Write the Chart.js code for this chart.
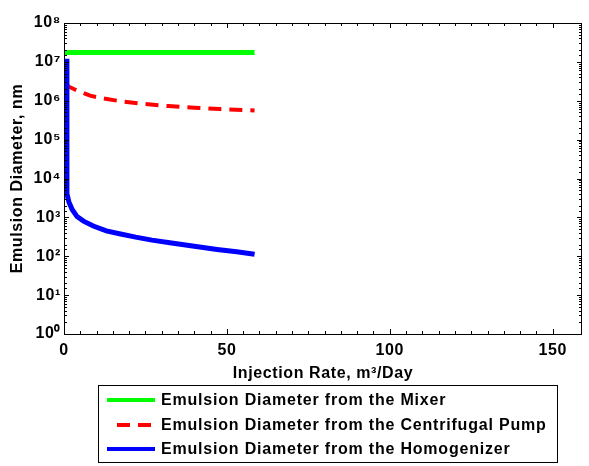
<!DOCTYPE html>
<html>
<head>
<meta charset="utf-8">
<script src="https://cdn.jsdelivr.net/npm/chart.js@4/dist/chart.umd.min.js"></script>
<style>
  html, body { margin: 0; padding: 0; background: #fff; }
  #wrap { position: relative; width: 589px; height: 466px; }
</style>
</head>
<body>
<div id="wrap"><canvas id="chart" width="589" height="466"></canvas></div>
<script>
// --- data ---
const mixerX = [0, 58.5]
const mixerY = [1.75e7, 1.75e7]

const pumpX = [0.5, 0.8, 1.5, 3, 5, 8, 12, 18, 25, 32, 40, 48, 55, 58.5]
const pumpY = [1.0e7, 2.6e6, 2.3e6, 2.0e6, 1.7e6, 1.35e6, 1.15e6, 9.5e5, 8.2e5, 7.3e5, 6.6e5, 6.1e5, 5.8e5, 5.6e5]

const homogX = [0.7, 0.9, 1.5, 2.5, 4, 6, 9, 13, 17, 22, 27, 33, 40, 47, 53, 58.5]
const homogY = [1.2e7, 4000, 2500, 1600, 1050, 800, 600, 450, 380, 310, 260, 220, 180, 150, 130, 112]

const xTickLabels = [0, 50, 100, 150]
const yTickLabels = ["10⁰", "10¹", "10²", "10³", "10⁴", "10⁵", "10⁶", "10⁷", "10⁸"]

const seriesLabels = [
  "Emulsion Diameter from the Mixer",
  "Emulsion Diameter from the Centrifugal Pump",
  "Emulsion Diameter from the Homogenizer"
]

const toPoints = (xs, ys) => xs.map((x, i) => ({ x, y: ys[i] }))

Chart.defaults.font.family = "Arial, 'Liberation Sans', sans-serif"
Chart.defaults.font.weight = "bold"
Chart.defaults.font.size = 16
Chart.defaults.color = "#000"

// the old matlab text is a bit wider than Arial
const spacing = {
  id: "spacing",
  beforeUpdate(chart) { chart.ctx.letterSpacing = "0.6px" },
  beforeDraw(chart) { chart.ctx.letterSpacing = "0.6px" }
}

// MATLAB style frame, inward ticks and the boxed legend
const matlabAxes = {
  id: "matlabAxes",
  afterDraw(chart) {
    const { ctx, chartArea: a } = chart
    const xs = chart.scales.x
    const ys = chart.scales.y
    ctx.save()
    ctx.strokeStyle = "#000"
    ctx.lineWidth = 1
    ctx.strokeRect(a.left + 0.5, a.top + 0.5, a.right - a.left - 1, a.bottom - a.top)

    ctx.beginPath()
    xs.ticks.forEach(t => {
      if (t.value % 5 !== 0) return
      const px = Math.round(xs.getPixelForValue(t.value)) + 0.5
      const len = t.value % 50 === 0 ? 5 : 3
      ctx.moveTo(px, a.bottom); ctx.lineTo(px, a.bottom - len)
      ctx.moveTo(px, a.top); ctx.lineTo(px, a.top + len)
    })
    ys.ticks.forEach(t => {
      const e = Math.log10(t.value)
      const len = Math.abs(e - Math.round(e)) < 1e-9 ? 5 : 3
      const py = Math.round(ys.getPixelForValue(t.value)) + 0.5
      ctx.moveTo(a.left, py); ctx.lineTo(a.left + len, py)
      ctx.moveTo(a.right, py); ctx.lineTo(a.right - len, py)
    })
    ctx.stroke()

    // legend box
    const box = { x: 98.5, y: 385.5, w: 459, h: 77 }
    ctx.fillStyle = "#fff"
    ctx.fillRect(box.x, box.y, box.w, box.h)
    ctx.strokeRect(box.x, box.y, box.w, box.h)
    const rows = [400, 425, 449]
    ctx.font = "bold 16px Arial, 'Liberation Sans', sans-serif"
    ctx.letterSpacing = "0.8px"
    ctx.textBaseline = "middle"
    chart.data.datasets.forEach((ds, i) => {
      ctx.beginPath()
      ctx.strokeStyle = ds.borderColor
      ctx.lineWidth = 4
      ctx.setLineDash(ds.borderDash || [])
      ctx.lineDashOffset = ds.borderDash ? -5 : 0
      ctx.moveTo(ds.borderDash ? 112 : 107, rows[i])
      ctx.lineTo(155, rows[i])
      ctx.stroke()
      ctx.setLineDash([])
      ctx.fillStyle = "#000"
      ctx.fillText(ds.label, 161, rows[i] + 1)
    })
    ctx.restore()
  }
}

new Chart(document.getElementById("chart"), {
  type: "scatter",
  data: {
    datasets: [
      {
        label: seriesLabels[0],
        data: toPoints(mixerX, mixerY),
        showLine: true,
        borderColor: "#00ff00",
        borderWidth: 5,
        pointRadius: 0,
        order: 2
      },
      {
        label: seriesLabels[1],
        data: toPoints(pumpX, pumpY),
        showLine: true,
        borderColor: "#ff0000",
        borderWidth: 4,
        borderDash: [13, 8],
        pointRadius: 0,
        order: 1
      },
      {
        label: seriesLabels[2],
        data: toPoints(homogX, homogY),
        showLine: true,
        borderColor: "#0000ff",
        borderWidth: 5,
        pointRadius: 0,
        order: 0
      }
    ]
  },
  options: {
    responsive: false,
    animation: false,
    layout: { padding: { top: 23, right: 2, left: 0, bottom: 0 } },
    plugins: {
      legend: { display: false },
      tooltip: { enabled: false }
    },
    scales: {
      x: {
        type: "linear",
        min: 0,
        max: 159,
        grid: { display: false, drawTicks: false },
        border: { display: false },
        ticks: {
          stepSize: 5,
          autoSkip: false,
          maxRotation: 0,
          padding: 7,
          callback: v => (xTickLabels.includes(v) ? String(v) : "")
        },
        title: {
          display: true,
          text: "Injection Rate, m³/Day",
          padding: { top: 0, bottom: 83 }
        },
        afterFit: s => { s.height = 132 }
      },
      y: {
        type: "logarithmic",
        min: 1,
        max: 1e8,
        grid: { display: false, drawTicks: false },
        border: { display: false },
        ticks: {
          autoSkip: false,
          padding: 3,
          callback: v => {
            const e = Math.log10(v)
            return Math.abs(e - Math.round(e)) < 1e-9 ? yTickLabels[Math.round(e)] : ""
          }
        },
        title: {
          display: true,
          text: "Emulsion Diameter, nm",
          padding: { top: 8, bottom: 0 }
        },
        afterFit: s => { s.width = 64 }
      }
    }
  },
  plugins: [spacing, matlabAxes]
})
</script>
</body>
</html>
